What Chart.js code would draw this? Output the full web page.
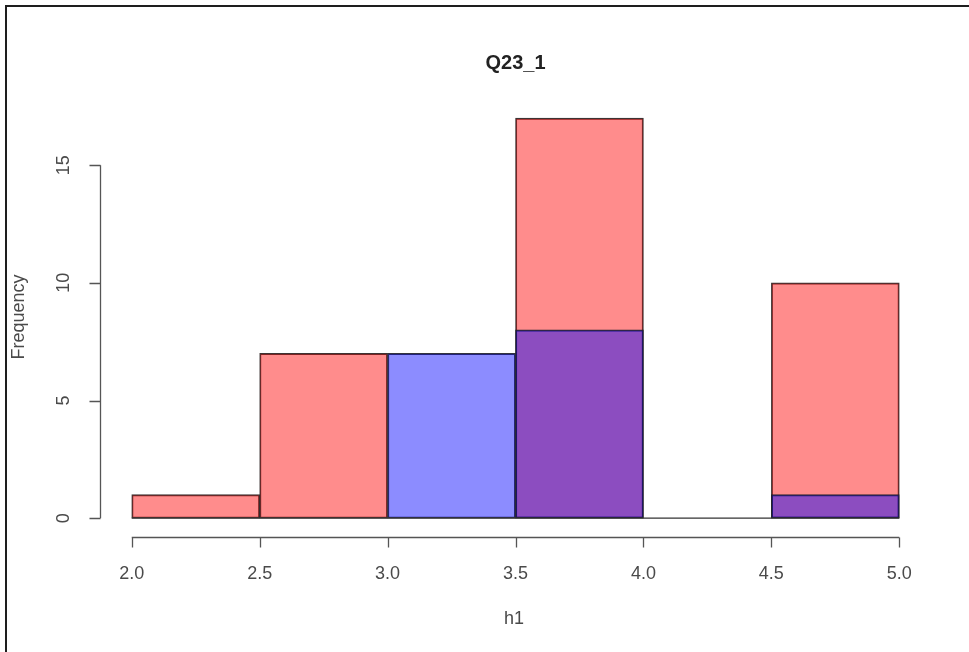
<!DOCTYPE html>
<html>
<head>
<meta charset="utf-8">
<title>Q23_1</title>
<script src="https://cdn.jsdelivr.net/npm/chart.js@4.4.1/dist/chart.umd.min.js"></script>
<style>
  html, body { margin: 0; padding: 0; background: #fff; }
  canvas { display: block; }
</style>
</head>
<body>
<canvas id="hist" width="969" height="652"></canvas>
<script>
// Histogram bins (centres of 0.5-wide bins) and counts for the two groups
const binCentres = [2.25, 2.75, 3.25, 3.75, 4.25, 4.75];
const groupRed   = [1, 7, 0, 17, 0, 10];
const groupBlue  = [0, 0, 7, 8, 0, 1];
const binEdges   = [2.0, 5.0];

// Axis ticks
const xTicks = [2.0, 2.5, 3.0, 3.5, 4.0, 4.5, 5.0];
const yTicks = [0, 5, 10, 15];

const titleText = 'Q23_1';
const xTitle = 'h1';
const yTitle = 'Frequency';

const FONT = '"Liberation Sans", Arial, Helvetica, sans-serif';
const AXIS_COLOR = '#555';
const TEXT_COLOR = '#4a4a4a';

const toPoints = (xs, ys) => xs.map((x, i) => ({ x, y: ys[i] }));

// R-style axes, title and frame drawn with the chart's own scales
const baseGraphics = {
  id: 'baseGraphics',
  afterDraw(chart) {
    const { ctx, chartArea, scales } = chart;
    const xs = scales.x, ys = scales.y;
    ctx.save();

    // outer frame (left and top)
    ctx.strokeStyle = '#1e1e1e';
    ctx.lineWidth = 2;
    ctx.beginPath();
    ctx.moveTo(6, 652);
    ctx.lineTo(6, 6);
    ctx.lineTo(969, 6);
    ctx.stroke();

    // title
    ctx.fillStyle = '#222';
    ctx.font = 'bold 20px ' + FONT;
    ctx.textAlign = 'center';
    ctx.textBaseline = 'middle';
    ctx.fillText(titleText, (xs.getPixelForValue(xTicks[0]) + xs.getPixelForValue(xTicks[xTicks.length - 1])) / 2, 63);

    ctx.strokeStyle = AXIS_COLOR;
    ctx.lineWidth = 1.3;

    // x axis
    const yAxisPos = chartArea.bottom + 0.5;
    const x0 = xs.getPixelForValue(xTicks[0]);
    const x1 = xs.getPixelForValue(xTicks[xTicks.length - 1]);
    ctx.beginPath();
    ctx.moveTo(x0, yAxisPos);
    ctx.lineTo(x1, yAxisPos);
    xTicks.forEach(t => {
      const px = Math.round(xs.getPixelForValue(t)) + 0.5;
      ctx.moveTo(px, yAxisPos);
      ctx.lineTo(px, yAxisPos + 10);
    });
    ctx.stroke();

    ctx.fillStyle = TEXT_COLOR;
    ctx.font = '18px ' + FONT;
    ctx.textAlign = 'center';
    ctx.textBaseline = 'middle';
    xTicks.forEach(t => {
      ctx.fillText(t.toFixed(1), xs.getPixelForValue(t), 574);
    });

    // y axis
    const xAxisPos = chartArea.left + 0.5;
    const yA = ys.getPixelForValue(yTicks[0]);
    const yB = ys.getPixelForValue(yTicks[yTicks.length - 1]);
    ctx.beginPath();
    ctx.moveTo(xAxisPos, yA);
    ctx.lineTo(xAxisPos, yB);
    yTicks.forEach(t => {
      const py = Math.round(ys.getPixelForValue(t)) + 0.5;
      ctx.moveTo(xAxisPos, py);
      ctx.lineTo(xAxisPos - 11, py);
    });
    ctx.stroke();

    yTicks.forEach(t => {
      ctx.save();
      ctx.translate(64, ys.getPixelForValue(t));
      ctx.rotate(-Math.PI / 2);
      ctx.fillText(String(t), 0, 0);
      ctx.restore();
    });

    // axis titles
    ctx.fillText(xTitle, 514, 619);
    ctx.save();
    ctx.translate(19, 317);
    ctx.rotate(-Math.PI / 2);
    ctx.fillText(yTitle, 0, 0);
    ctx.restore();

    ctx.restore();
  }
};

new Chart(document.getElementById('hist'), {
  type: 'bar',
  data: {
    datasets: [
      {
        label: 'baseline',
        type: 'line',
        data: [{ x: binEdges[0], y: 0 }, { x: binEdges[1], y: 0 }],
        borderColor: '#333',
        borderWidth: 1.2,
        pointRadius: 0,
        order: 0
      },
      {
        label: 'blue',
        data: toPoints(binCentres, groupBlue),
        backgroundColor: 'rgba(0, 0, 255, 0.45)',
        borderColor: 'rgba(30, 30, 40, 0.9)',
        borderWidth: 1.2,
        borderSkipped: false,
        order: 1
      },
      {
        label: 'red',
        data: toPoints(binCentres, groupRed),
        backgroundColor: 'rgba(255, 0, 0, 0.45)',
        borderColor: 'rgba(40, 30, 30, 0.9)',
        borderWidth: 1.2,
        borderSkipped: false,
        order: 2
      }
    ]
  },
  options: {
    responsive: false,
    animation: false,
    devicePixelRatio: 1,
    grouped: false,
    barPercentage: 1,
    categoryPercentage: 1,
    layout: { padding: { left: 100, right: 39, top: 100, bottom: 115 } },
    plugins: {
      legend: { display: false },
      title: { display: false },
      tooltip: { enabled: false }
    },
    scales: {
      x: { type: 'linear', min: 1.876, max: 5.12, offset: false, display: false },
      y: { type: 'linear', min: -0.8, max: 17.77, display: false }
    }
  },
  plugins: [baseGraphics]
});
</script>
</body>
</html>
